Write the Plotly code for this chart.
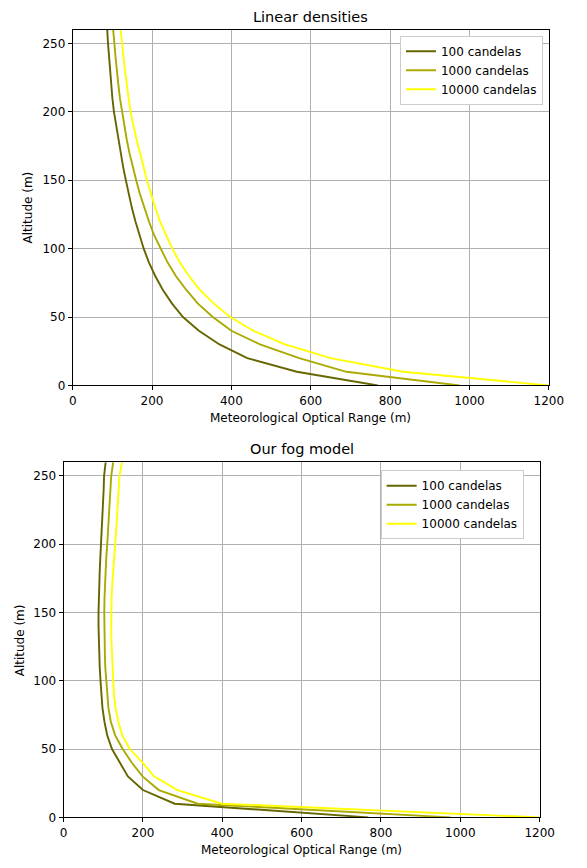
import plotly.graph_objects as go

# ---------------- data ----------------
altitudes = [0, 10, 20, 30, 40, 50, 60, 70, 80, 90, 100, 110, 120, 130, 140,
             150, 160, 170, 180, 190, 200, 210, 220, 230, 240, 250, 260]

series_names = ["100 candelas", "1000 candelas", "10000 candelas"]

# Linear densities model (MOR in metres at each altitude)
linear_100 = [769, 565, 440, 370, 318, 278, 250, 227, 208, 192, 179, 168, 158, 149, 141,
              134, 127, 121, 115, 109, 104, 100, 97, 94, 91.5, 89, 87]
linear_1000 = [975, 690, 571, 472, 400, 353, 315, 286, 260, 239, 222, 205, 192, 180, 169.5,
               160, 151, 143, 136, 130, 124, 119, 115, 111, 108, 105, 102]
linear_10000 = [1200, 833, 650, 535, 455, 397, 355, 320, 293, 270, 251, 235, 220, 208, 197,
                187, 178.5, 169, 161, 153, 146, 141, 136, 132, 128, 124, 121]

# Our fog model
fog_100 = [768, 280, 200, 162, 142, 122, 110, 103, 98, 95, 93, 91, 89.5, 88.5, 88,
           88, 88.5, 89.5, 91, 92.5, 94.5, 96, 98, 99.5, 101, 102, 106]
fog_1000 = [976, 338, 240, 199, 172, 149, 130, 119, 113, 110, 107, 105, 104, 103, 102.5,
            102.5, 103, 104, 105.5, 107.5, 110, 112, 114, 116, 118, 120, 125]
fog_10000 = [1200, 399, 287, 228, 199, 167, 148, 138, 131, 127, 125, 123, 121.5, 120.5, 120,
             120, 121, 122.5, 124.5, 127, 130, 132.5, 135, 137, 139, 141, 147]

x_ticks = [0, 200, 400, 600, 800, 1000, 1200]
y_ticks = [0, 50, 100, 150, 200, 250]

colors = ["#666600", "#aaaa00", "#ffff00"]

W, H = 587, 868   # target picture size; all positions given as fractions of it
FONT = "DejaVu Sans"

fig = go.Figure()

for name, vals, col in zip(series_names, [linear_100, linear_1000, linear_10000], colors):
    fig.add_trace(go.Scatter(x=vals, y=altitudes, mode="lines", name=name,
                             line=dict(color=col, width=1.9),
                             xaxis="x", yaxis="y", legend="legend"))
for name, vals, col in zip(series_names, [fog_100, fog_1000, fog_10000], colors):
    fig.add_trace(go.Scatter(x=vals, y=altitudes, mode="lines", name=name,
                             line=dict(color=col, width=1.9),
                             xaxis="x2", yaxis="y2", legend="legend2"))

def px_x(p):
    return p / W

def px_y(p):
    return 1 - p / H

axis_common = dict(showline=True, mirror=True, linecolor="black", linewidth=1,
                   ticks="outside", ticklen=4, tickcolor="black", tickwidth=1,
                   showgrid=True, gridcolor="#b0b0b0", gridwidth=1,
                   zeroline=False, tickfont=dict(family=FONT, size=12, color="black"))

fig.update_layout(
    width=W, height=H,
    margin=dict(l=0, r=0, t=0, b=0),
    paper_bgcolor="white", plot_bgcolor="white",
    font=dict(family=FONT, size=12, color="black"),
    xaxis=dict(domain=[px_x(71), px_x(563)], range=[0, 1200], tickvals=x_ticks,
               anchor="y", **axis_common),
    yaxis=dict(domain=[px_y(388.6), px_y(30)], range=[0, 260], tickvals=y_ticks,
               anchor="x", **axis_common),
    xaxis2=dict(domain=[px_x(61.6), px_x(553.6)], range=[0, 1200], tickvals=x_ticks,
                anchor="y2", **axis_common),
    yaxis2=dict(domain=[px_y(824), px_y(466)], range=[0, 260], tickvals=y_ticks,
                anchor="x2", **axis_common),
    legend=dict(x=px_x(557), y=px_y(36), xanchor="right", yanchor="top",
                bgcolor="white", bordercolor="#cccccc", borderwidth=1,
                font=dict(family=FONT, size=12), itemwidth=30, tracegroupgap=0),
    legend2=dict(x=px_x(537), y=px_y(474), xanchor="right", yanchor="top",
                 bgcolor="white", bordercolor="#cccccc", borderwidth=1,
                 font=dict(family=FONT, size=12), itemwidth=30, tracegroupgap=0),
    showlegend=True,
)

annotations = [
    dict(text="Linear densities", x=px_x(317), y=px_y(17), font=dict(size=14.5)),
    dict(text="Our fog model", x=px_x(307.6), y=px_y(453), font=dict(size=14.5)),
    dict(text="Meteorological Optical Range (m)", x=px_x(317), y=px_y(421), font=dict(size=12)),
    dict(text="Meteorological Optical Range (m)", x=px_x(307.6), y=px_y(857), font=dict(size=12)),
    dict(text="Altitude (m)", x=px_x(25), y=px_y(209), textangle=-90, font=dict(size=12)),
    dict(text="Altitude (m)", x=px_x(16), y=px_y(645), textangle=-90, font=dict(size=12)),
]
for a in annotations:
    a.update(xref="paper", yref="paper", showarrow=False, xanchor="center", yanchor="middle")
    a["font"].update(family=FONT, color="black")
fig.update_layout(annotations=annotations)

# Fit the figure exactly to the browser viewport (positions are fractions, so they scale).
post = (
    "document.documentElement.style.margin='0';"
    "document.body.style.margin='0';"
    "document.documentElement.style.overflow='hidden';"
    "document.body.style.overflow='hidden';"
    "var gd=document.getElementById('{plot_id}');"
    "var w=document.documentElement.clientWidth||window.innerWidth;"
    "var h=document.documentElement.clientHeight||window.innerHeight;"
    "gd.style.width=w+'px';gd.style.height=h+'px';"
    "Plotly.relayout(gd,{width:w,height:h});"
)

fig.write_html("out.html", config={"displayModeBar": False}, post_script=post)
